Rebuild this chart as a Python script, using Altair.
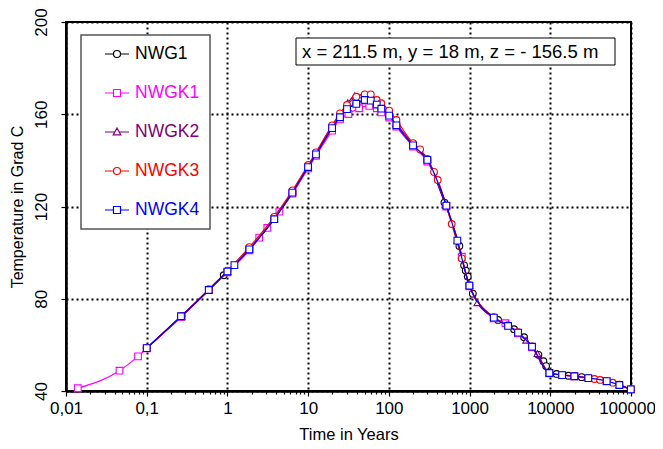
import altair as alt
import pandas as pd

FONT = "Liberation Sans"

series_names = ["NWG1", "NWGK1", "NWGK2", "NWGK3", "NWGK4"]
series_colors = ["#000000", "#FF00FF", "#800080", "#FF0000", "#0000FF"]
series_shapes = ["circle", "square", "triangle-up", "circle", "square"]

nwg1_t = [0.1, 0.27, 0.59, 0.9, 1.87, 3.8, 6.4, 10, 12.5, 19.8, 24.8, 30.3, 39.5, 50.2, 59.7, 70.8,
          80.7, 101, 124, 199.5, 300, 488, 748, 855, 897, 950, 1097, 2255, 3556, 4731, 7130, 8221,
          8872, 12000, 16800, 24500, 50000, 99500]
nwg1_T = [58.6, 72.4, 83.8, 90.2, 101.4, 114.5, 126.0, 137.1, 142.6, 154.0, 158.7, 162.2, 164.5, 166.0,
          165.7, 164.0, 162.2, 159.2, 155.0, 146.3, 140.0, 121.7, 102.9, 94.5, 92.2, 89.6, 82.2, 70.8,
          66.8, 63.3, 55.7, 52.9, 50.8, 47.4, 46.6, 46.0, 44.3, 40.7]

nwgk1_t = [0.014, 0.046, 0.078, 0.1, 0.27, 0.59, 1.0, 1.87, 2.48, 3.12, 4.4, 6.4, 10, 12.5, 19.8, 24.8,
           31.5, 42.8, 57.3, 70.8, 80.7, 101, 124, 199.5, 300, 516, 800, 995, 1995, 2780, 3990, 5940,
           9753, 19900, 50000, 99500]
nwgk1_T = [41.2, 48.8, 55.0, 58.5, 72.2, 83.8, 91.5, 101.0, 106.5, 110.7, 117.8, 125.6, 136.5, 142.0,
           152.9, 157.8, 160.1, 162.6, 163.6, 162.6, 160.8, 158.6, 154.6, 146.0, 139.5, 120.0, 98.2,
           85.4, 71.5, 69.4, 65.0, 58.9, 47.7, 46.3, 44.2, 40.7]

nwgk2_t = [0.1, 0.27, 0.59, 1.0, 1.87, 3.8, 6.4, 10, 12.5, 19.8, 24.8, 31, 37.9, 49.6, 59.7, 70.8, 80.7,
           101, 124, 199.5, 300, 516, 706, 995, 1250, 1995, 3000, 3990, 5012, 6918, 9753, 14000, 19900,
           29600, 50000, 71800, 99500]
nwgk2_T = [58.6, 72.4, 83.8, 91.8, 101.6, 114.8, 126.5, 137.6, 143.2, 155.0, 160.0, 165.0, 168.0, 168.4,
           167.5, 165.5, 163.6, 160.2, 155.9, 147.0, 140.5, 120.6, 105.3, 85.8, 78.3, 71.9, 68.3, 65.4,
           62.0, 56.2, 47.9, 47.0, 46.5, 45.7, 44.4, 42.7, 40.8]

nwgk3_t = [0.1, 0.27, 0.59, 1.0, 1.87, 3.8, 6.4, 10, 12.5, 19.8, 24.8, 30.3, 39.5, 50.2, 59.7, 70.8,
           80.7, 101, 124, 199.5, 244, 300, 363, 403, 601, 800, 995, 1995, 3000, 3990, 5940, 9753,
           14000, 19900, 29600, 35200, 41400, 59400, 71800, 99500]
nwgk3_T = [58.6, 72.6, 84.2, 92.2, 102.4, 115.5, 127.0, 138.0, 143.5, 155.2, 160.4, 164.0, 167.6, 168.6,
           168.6, 166.2, 164.8, 161.6, 157.5, 147.5, 144.8, 140.6, 135.0, 131.5, 112.4, 97.5, 86.0,
           72.0, 68.5, 65.5, 59.3, 47.9, 47.0, 46.5, 45.7, 45.2, 44.8, 43.6, 42.7, 40.8]

nwgk4_t = [0.1, 0.266, 0.586, 1.0, 1.22, 1.87, 3.81, 6.37, 9.98, 12.5, 19.8, 24.8, 30.3, 39.5, 50.2,
           59.7, 70.8, 80.7, 101, 124, 199.5, 300, 516, 706, 995, 1995, 3000, 3990, 5940, 9753, 14000,
           19900, 29600, 50000, 71800, 99500]
nwgk4_T = [58.6, 72.4, 83.8, 91.8, 94.6, 101.4, 114.5, 126.0, 137.1, 142.6, 154.0, 158.7, 162.2, 164.5,
           166.2, 165.9, 164.2, 162.4, 159.4, 155.2, 146.5, 140.2, 120.4, 105.2, 85.7, 71.8, 68.2, 65.3,
           59.2, 47.8, 46.9, 46.4, 45.6, 44.3, 42.6, 40.7]

series_t = [nwg1_t, nwgk1_t, nwgk2_t, nwgk3_t, nwgk4_t]
series_T = [nwg1_T, nwgk1_T, nwgk2_T, nwgk3_T, nwgk4_T]

x_major = [0.01, 0.1, 1, 10, 100, 1000, 10000, 100000]
x_major_labels = ["0,01", "0,1", "1", "10", "100", "1000", "10000", "100000"]
y_ticks = [40, 80, 120, 160, 200]
annotation = "x = 211.5 m, y = 18 m, z = - 156.5 m"

# minor tick positions on the log axis (2..9 within each decade)
x_minor = [round(k * m, 10) for m in x_major[:-1] for k in range(2, 10)]
x_all_ticks = sorted(x_major + x_minor)

major_test = "abs(log(datum.value)/LN10 - round(log(datum.value)/LN10)) < 0.001"
maj_list = "[" + ",".join(repr(v) for v in x_major) + "]"
lab_list = "[" + ",".join("'" + s + "'" for s in x_major_labels) + "]"
label_expr = f"indexof({maj_list}, datum.value) >= 0 ? {lab_list}[indexof({maj_list}, datum.value)] : ''"
last_test = f"datum.value >= {x_major[-1]}"

# legend symbols: line with marker (unit coords, 8 px per unit)
circ = "M0.625,0H1.685M2.565,0H3.625M2.565,0A0.44,0.44,0,1,1,1.685,0A0.44,0.44,0,1,1,2.565,0Z"
sq = "M0.625,0H1.685M2.565,0H3.625M1.685,-0.44H2.565V0.44H1.685Z"
tri = "M0.625,0H1.87M2.38,0H3.625M2.125,-0.5L2.6,0.36H1.65Z"
sym_expr = (f"datum.value == 'NWGK2' ? '{tri}' : "
            f"(datum.value == 'NWG1' || datum.value == 'NWGK3') ? '{circ}' : '{sq}'")

color = alt.Color(
    "series:N",
    scale=alt.Scale(domain=series_names, range=series_colors),
    sort=series_names,
    legend=alt.Legend(
        title=None, orient="none", legendX=15, legendY=13,
        padding=10, rowPadding=21, symbolSize=256,
        symbolType=alt.ExprRef(expr=sym_expr),
        symbolStrokeWidth=1.2, symbolFillColor="transparent",
        labelFont=FONT, labelFontSize=17.5, labelOffset=26,
        labelColor=alt.ExprRef(expr="scale('color', datum.value)"),
        labelExpr="datum.label + '  '",
        strokeColor="#555555", fillColor="white",
    ),
)

x_enc = alt.X(
    "t:Q",
    scale=alt.Scale(type="log", domain=[0.01, 100000], nice=False),
    axis=alt.Axis(
        title="Time in Years", values=x_all_ticks, labelExpr=label_expr,
        tickSize={"condition": {"test": major_test, "value": 5}, "value": 3},
        gridOpacity={"condition": {"test": major_test, "value": 1}, "value": 0},
        labelOffset={"condition": {"test": last_test, "value": -4}, "value": 0},
        labelFlush=False, labelOverlap=False, labelPadding=4,
        titleY=43, titleBaseline="middle",
    ),
)
y_enc = alt.Y(
    "T:Q",
    scale=alt.Scale(domain=[40, 200], nice=False, zero=False),
    axis=alt.Axis(
        title="Temperature in Grad C", values=y_ticks, tickSize=5,
        labelAngle=270, labelAlign="center", labelBaseline="bottom", labelPadding=11,
        titleX=-49, titleBaseline="middle", titleFontSize=16,
    ),
)

layers = []
for name, ts, Ts, shp in zip(series_names, series_t, series_T, series_shapes):
    df = pd.DataFrame({"t": ts, "T": Ts, "series": name})
    base = alt.Chart(df).encode(x=x_enc, y=y_enc, color=color)
    layers.append(base.mark_line(strokeWidth=1.2, interpolate="monotone"))
    layers.append(base.mark_point(shape=shp, size=45, filled=False, fill="white",
                                  fillOpacity=1, strokeWidth=1.1))

ann_df = pd.DataFrame({"label": [annotation]})
ann_box = alt.Chart(ann_df).mark_rect(fill="white", stroke="black", strokeWidth=1).encode(
    x=alt.value(230), x2=alt.value(549), y=alt.value(16), y2=alt.value(43)
)
ann_text = alt.Chart(ann_df).mark_text(
    align="left", baseline="middle", font=FONT, fontSize=18.5, color="black"
).encode(x=alt.value(236), y=alt.value(30), text="label:N")

chart = alt.layer(*layers, ann_box, ann_text).properties(
    width=565, height=369,
    autosize=alt.AutoSizeParams(type="none"),
    padding={"left": 58, "top": 14, "right": 24, "bottom": 50},
).configure_view(
    stroke="black", strokeWidth=2
).configure_axis(
    domainColor="black", domainWidth=2.5, tickColor="black", tickWidth=1.2,
    grid=True, gridColor="black", gridDash=[2, 3], gridWidth=2,
    labelFont=FONT, labelFontSize=17, labelColor="black",
    titleFont=FONT, titleFontSize=16.5, titleColor="black", titleFontWeight="normal",
).configure_legend(
    strokeWidth=1.5
)

chart.save("out.html", embed_options={"renderer": "svg", "actions": False})
